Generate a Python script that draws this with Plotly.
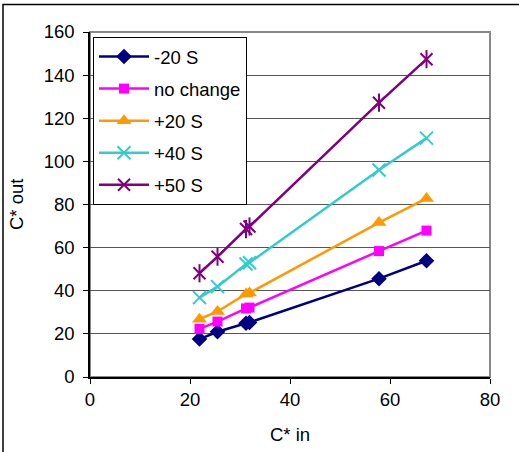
import plotly.graph_objects as go

# Data
x_in = [21.9, 25.5, 31.2, 31.9, 57.8, 67.3]
s_minus20 = [17.6, 21.0, 24.9, 25.3, 45.6, 53.9]
s_nochange = [22.3, 25.7, 31.8, 32.2, 58.4, 67.9]
s_plus20 = [26.8, 30.4, 38.5, 39.0, 71.6, 82.8]
s_plus40 = [36.8, 41.9, 52.4, 53.0, 96.0, 110.8]
s_plus50 = [48.1, 55.8, 68.6, 69.8, 127.2, 147.4]

names = ["-20 S", "no change", "+20 S", "+40 S", "+50 S"]
colors = ["#000080", "#FF00FF", "#FF9900", "#33CCCC", "#800080"]
series = [s_minus20, s_nochange, s_plus20, s_plus40, s_plus50]
symbols = ["diamond", "square", "triangle-up", "x-thin-open", "x-thin-open"]
sizes = [12, 10, 13, 13, 12]

fig = go.Figure()
for name, col, ys, sym, sz in zip(names, colors, series, symbols, sizes):
    fig.add_trace(go.Scatter(
        x=x_in, y=ys, name=name, mode="lines+markers",
        legendgroup=name,
        line=dict(color=col, width=2.5),
        marker=dict(symbol=sym, size=sz, color=col,
                    line=dict(color=col, width=2 if "open" in sym else 0)),
    ))
# vertical stroke for the star marker of +50 S
fig.add_trace(go.Scatter(
    x=x_in, y=s_plus50, mode="markers", showlegend=False, legendgroup="+50 S",
    marker=dict(symbol="line-ns-open", size=13, color=colors[4],
                line=dict(color=colors[4], width=2)),
    hoverinfo="skip",
))

W, H = 519, 452
L, R, T, B = 90, 29, 32, 75
pw, ph = W - L - R, H - T - B

def px_x(p):
    return (p - L) / pw

def px_y(p):
    return (H - B - p) / ph

font = dict(family="Liberation Sans, Arial, sans-serif", size=18.5, color="black")

fig.update_layout(
    width=W, height=H,
    margin=dict(l=L, r=R, t=T, b=B),
    paper_bgcolor="white", plot_bgcolor="white",
    font=font,
    showlegend=True,
    legend=dict(
        x=px_x(93), y=px_y(37), xanchor="left", yanchor="top",
        bordercolor="black", borderwidth=1, bgcolor="white",
        font=font, traceorder="grouped", tracegroupgap=5,
        itemwidth=50,
    ),
    xaxis=dict(
        range=[0, 80], tickvals=[0, 20, 40, 60, 80], showgrid=False,
        showline=True, linecolor="black", linewidth=1.5,
        ticks="outside", ticklen=5, tickcolor="black", zeroline=False,
        tickfont=font, ticklabelstandoff=0,
    ),
    yaxis=dict(
        range=[0, 160], tickvals=list(range(0, 161, 20)),
        showgrid=True, gridcolor="#555555", gridwidth=1,
        showline=True, linecolor="black", linewidth=1.5,
        ticks="outside", ticklen=5, tickcolor="black", zeroline=False,
        tickfont=font, ticklabelstandoff=5,
    ),
    shapes=[
        # plot area border (grey)
        dict(type="rect", xref="paper", yref="paper", x0=0, y0=0, x1=1, y1=1,
             line=dict(color="#888888", width=2), layer="below"),
        # outer chart frame
        dict(type="rect", xref="paper", yref="paper",
             x0=px_x(3), y0=px_y(470), x1=px_x(540), y1=px_y(4.5),
             line=dict(color="black", width=1.5), layer="below"),
    ],
    annotations=[
        dict(text="C* in", xref="paper", yref="paper", x=0.5, y=px_y(434),
             showarrow=False, font=font, xanchor="center", yanchor="middle"),
        dict(text="C* out", xref="paper", yref="paper", x=px_x(17), y=px_y(205),
             showarrow=False, font=font, textangle=-90,
             xanchor="center", yanchor="middle"),
    ],
)

fig.write_html("out.html", config={"displayModeBar": False},
               post_script="document.body.style.margin='0';")
